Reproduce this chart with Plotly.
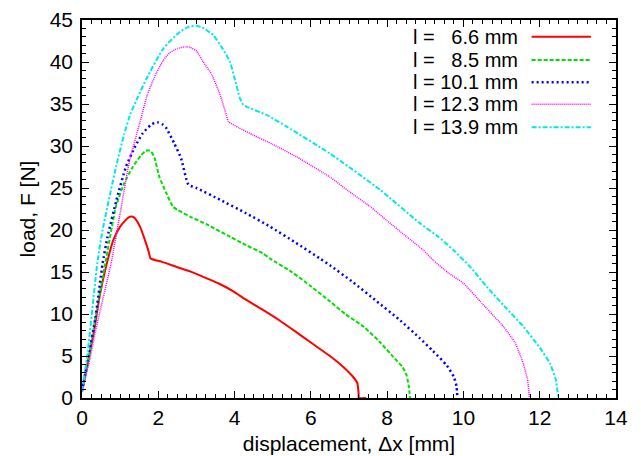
import plotly.graph_objects as go

# ---- data ----
labels = ["l =\u00a0\u00a0\u00a06.6 mm", "l =\u00a0\u00a0\u00a08.5 mm", "l = 10.1 mm", "l = 12.3 mm", "l = 13.9 mm"]

x_66 = [0, 0.15, 0.32, 0.47, 0.65, 0.82, 1.0, 1.15, 1.22, 1.30, 1.36, 1.42, 1.52, 1.65, 1.75, 1.80, 2.1, 2.48, 2.9, 3.27, 3.6, 4.0, 4.23, 4.7, 5.19, 5.6, 6.0, 6.5, 6.85, 7.11, 7.22, 7.25, 7.26, 7.45]
y_66 = [0.8, 4.2, 8.1, 12.3, 16.0, 18.8, 20.4, 21.2, 21.5, 21.6, 21.5, 21.2, 20.4, 18.8, 17.4, 16.6, 16.2, 15.6, 14.95, 14.25, 13.6, 12.6, 11.9, 10.6, 9.2, 7.9, 6.6, 5.0, 3.7, 2.5, 1.75, 0.6, 0.0, 0.0]

x_85 = [0, 0.15, 0.35, 0.61, 0.89, 1.1, 1.33, 1.55, 1.65, 1.74, 1.82, 1.9, 2.03, 2.2, 2.38, 2.5, 2.83, 3.3, 3.88, 4.3, 4.75, 4.93, 5.5, 6.0, 6.5, 6.9, 7.38, 7.8, 8.16, 8.4, 8.51, 8.57, 8.6]
y_85 = [0.8, 4.0, 9.5, 16.0, 22.8, 25.5, 27.5, 28.9, 29.35, 29.5, 29.3, 28.6, 26.3, 24.5, 22.8, 22.4, 21.6, 20.6, 19.2, 18.2, 17.2, 16.6, 15.0, 13.3, 11.5, 10.0, 8.5, 6.7, 4.9, 3.7, 2.7, 1.3, 0.0]

x_101 = [0, 0.15, 0.35, 0.54, 0.67, 0.9, 1.15, 1.4, 1.59, 1.8, 1.9, 2.0, 2.1, 2.2, 2.42, 2.6, 2.79, 3.0, 3.62, 4.3, 4.93, 5.6, 6.24, 6.5, 7.1, 7.73, 8.3, 8.86, 9.2, 9.56, 9.75, 9.82, 9.84]
y_101 = [0.8, 4.5, 9.5, 16.0, 19.2, 23.5, 27.5, 30.0, 31.5, 32.5, 32.75, 32.8, 32.6, 32.2, 30.3, 28.5, 25.4, 25.0, 23.6, 22.0, 20.4, 18.5, 16.6, 15.8, 13.8, 11.5, 9.4, 7.1, 5.6, 3.9, 2.5, 1.35, 0.0]

x_123 = [0, 0.2, 0.38, 0.76, 1.0, 1.24, 1.5, 1.72, 1.95, 2.13, 2.3, 2.5, 2.7, 2.83, 3.0, 3.18, 3.4, 3.62, 3.79, 3.84, 4.1, 4.49, 5.0, 5.63, 6.5, 7.0, 7.55, 8.0, 8.51, 8.95, 9.21, 9.6, 10.0, 10.5, 11.05, 11.35, 11.57, 11.68, 11.73]
y_123 = [0.8, 4.5, 8.5, 16.0, 22.0, 28.1, 32.5, 36.2, 38.7, 40.2, 41.1, 41.6, 41.8, 41.75, 41.3, 40.0, 38.5, 36.1, 33.6, 32.9, 32.2, 31.3, 30.2, 28.7, 26.3, 24.6, 22.8, 21.1, 19.2, 17.6, 16.4, 14.9, 13.65, 11.2, 8.5, 6.6, 4.1, 2.2, 0.0]

x_139 = [0, 0.15, 0.4, 0.54, 0.89, 1.1, 1.26, 1.46, 1.70, 2.13, 2.57, 2.8, 3.01, 3.2, 3.44, 3.7, 3.88, 4.01, 4.14, 4.23, 4.84, 5.37, 6.5, 7.81, 8.86, 9.34, 9.74, 10.2, 10.61, 11.1, 11.57, 12.0, 12.27, 12.42, 12.49]
y_139 = [0.8, 5.5, 16.0, 20.0, 27.5, 31.3, 33.7, 35.8, 38.1, 41.6, 43.6, 44.2, 44.3, 44.0, 43.2, 41.5, 40.0, 37.9, 35.7, 34.9, 33.7, 32.3, 29.1, 24.8, 20.8, 19.2, 17.6, 15.5, 13.25, 10.8, 8.5, 6.0, 4.1, 2.2, 0.0]

xs = [x_66, x_85, x_101, x_123, x_139]
ys = [y_66, y_85, y_101, y_123, y_139]

colors = ["#ff0000", "#00e000", "#0000ff", "#ff00ff", "#00e8e8"]
widths = [2, 2, 2.5, 1.5, 2]
dashes = ["solid", "4px,2px", "2px,3px", "1px,1px", "5px,2px,2px,2px"]

FONT = "Liberation Sans, Arial, Helvetica, sans-serif"

fig = go.Figure()
for x, y, c, w, d, name in zip(xs, ys, colors, widths, dashes, labels):
    fig.add_trace(go.Scatter(x=x, y=y, mode="lines", name=name,
                             line=dict(color=c, width=w, dash=d,
                                       shape="spline", smoothing=0.5),
                             showlegend=False))

# gnuplot-style key: text then sample, top right
key_y = [0.956, 0.894, 0.835, 0.777, 0.716]
for name, c, w, d, ky in zip(labels, colors, widths, dashes, key_y):
    fig.add_annotation(xref="paper", yref="paper", x=0.82, y=ky, text=name,
                       showarrow=False, xanchor="right", yanchor="middle",
                       font=dict(family=FONT, size=20, color="black"))
    fig.add_shape(type="line", xref="paper", yref="paper",
                  x0=0.842, x1=0.953, y0=ky, y1=ky,
                  line=dict(color=c, width=w, dash=d))

axis_common = dict(
    showgrid=False, zeroline=False, automargin=False,
    showline=True, linecolor="black", linewidth=1.5, mirror="allticks",
    ticks="inside", ticklen=7, tickwidth=1.2, tickcolor="black",
    tickfont=dict(family=FONT, size=21, color="black"),
)

fig.update_xaxes(range=[0, 14], dtick=2, tick0=0,
                 minor=dict(dtick=0.25, ticks="inside", ticklen=4, tickwidth=1, tickcolor="black"),
                 title=dict(text="displacement, \u0394x [mm]", standoff=8,
                            font=dict(family=FONT, size=21, color="black")),
                 **axis_common)
fig.update_yaxes(range=[0, 45], dtick=5, tick0=0,
                 minor=dict(dtick=1, ticks="inside", ticklen=4, tickwidth=1, tickcolor="black"),
                 title=dict(text="load, F [N]", standoff=8,
                            font=dict(family=FONT, size=21, color="black")),
                 ticklabelstandoff=3,
                 **axis_common)

fig.update_layout(
    width=641, height=456,
    margin=dict(l=82, r=25, t=20, b=58),
    paper_bgcolor="white", plot_bgcolor="white",
    font=dict(family=FONT, size=21, color="black"),
)

fig.write_html("out.html", config={"displayModeBar": False},
               post_script="document.body.style.margin='0';document.body.style.overflow='hidden';")
